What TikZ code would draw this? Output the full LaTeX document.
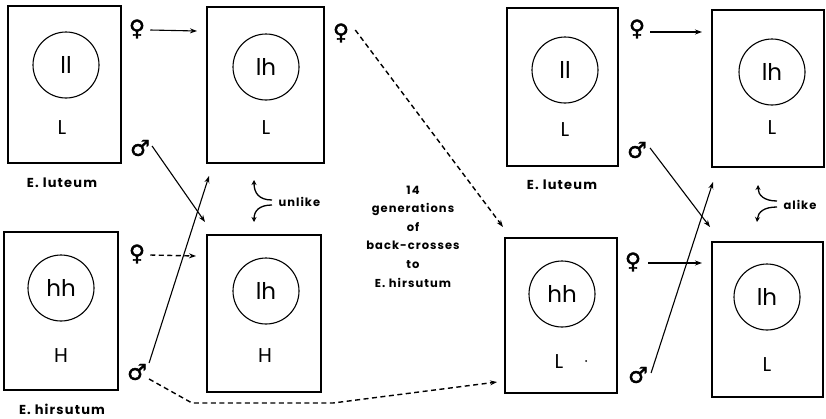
\documentclass[tikz,border=0pt]{standalone}
\usepackage{fontspec}
\setmainfont{Poppins}
\newfontfamily\lettering[LetterSpace=9]{Poppins}
\newfontfamily\symfont[FakeBold=1.5]{DejaVu Sans}
\usetikzlibrary{arrows.meta}
\begin{document}
\begin{tikzpicture}[x=1pt,y=-1pt,
  cell/.style={draw,line width=1.4pt,minimum width=#1,inner sep=0pt},
  chrom/.style={draw,circle,line width=1.1pt,minimum size=66pt,inner sep=0pt,font=\fontsize{23}{23}\selectfont},
  pheno/.style={font=\fontsize{20}{20}\selectfont},
  sex/.style={font=\symfont\fontsize{22}{22}\selectfont,inner sep=0pt},
  species/.style={font=\lettering\bfseries\fontsize{13}{13}\selectfont},
  arr/.style={line width=1.1pt,-{Stealth[length=7pt,width=5pt]}},
  darr/.style={line width=1.4pt,dash pattern=on 5pt off 3.5pt,-{Stealth[length=7pt,width=5pt]}},
  curl/.style={line width=1.3pt,-{Stealth[length=5pt,width=5pt]}},
  note/.style={font=\lettering\bfseries\fontsize{11.5}{18.6}\selectfont}
]
\useasboundingbox (0,0) rectangle (826,418);
% boxes
\node[cell=113pt,minimum height=157pt] (A) at (64.5,84.5) {};
\node[cell=117pt,minimum height=156pt] (B) at (265.5,85) {};
\node[cell=114pt,minimum height=158pt] (C) at (61,311) {};
\node[cell=114pt,minimum height=157pt] (D) at (264,313.5) {};
\node[cell=111pt,minimum height=158pt] (E) at (562.5,87) {};
\node[cell=112pt,minimum height=155pt] (H) at (561,315.5) {};
\node[cell=112pt,minimum height=157pt] (F) at (768,88.5) {};
\node[cell=111pt,minimum height=155pt] (G) at (767.5,319.5) {};
% chromosome circles
\node[chrom] (cA) at (66,65) {ll};
\node[chrom] (cB) at (266,67) {lh};
\node[chrom] (cC) at (61,288) {hh};
\node[chrom] (cD) at (266,291) {lh};
\node[chrom] (cE) at (565,70) {ll};
\node[chrom] (cF) at (772,72) {lh};
\node[chrom] (cH) at (562,294) {hh};
\node[chrom] (cG) at (767,297) {lh};
% phenotypes
\node[pheno] (pA) at (62,128) {L};
\node[pheno] (pB) at (266,128) {L};
\node[pheno] (pC) at (61,356) {H};
\node[pheno] (pD) at (265,356) {H};
\node[pheno] (pE) at (565,130) {L};
\node[pheno] (pF) at (772,128) {L};
\node[pheno] (pH) at (559,362) {L};
\node[pheno] (pG) at (767,365) {L};
\fill (586,361) circle (1pt);
% species labels
\node[species] (sA) at (62,183) {E. luteum};
\node[species] (sC) at (62,409) {E. hirsutum};
\node[species] (sE) at (562,185) {E. luteum};
% sex symbols
\node[sex] (fA) at (137,29) {♀};
\node[sex] (mA) at (140,148) {♂};
\node[sex] (fC) at (137,254) {♀};
\node[sex] (mC) at (137,372) {♂};
\node[sex] (fB) at (341,33) {♀};
\node[sex] (fE) at (637,29) {♀};
\node[sex] (mE) at (637,150) {♂};
\node[sex] (fH) at (633,262) {♀};
\node[sex] (mH) at (638,375) {♂};
% arrow end points
\coordinate (tB) at (197,31);
\coordinate (tD1) at (205,222);
\coordinate (tB2) at (209,176);
\coordinate (tD2) at (196,256);
\coordinate (tH1) at (503,227);
\coordinate (tH2) at (497,382);
\coordinate (tF) at (702,32);
\coordinate (tG1) at (710,227);
\coordinate (tG2) at (702,263);
\coordinate (tF2) at (713,182);
% crosses
\draw[arr] (fA.east) ++(5,1) -- (tB);
\draw[arr] (mA.east) ++(2,-2) -- (tD1);
\draw[arr] (mC.east) ++(2,-9) -- (tB2);
\draw[darr] (fC.east) ++(5,1) -- (tD2);
\draw[darr] (fB.east) ++(6,-3) -- (tH1);
\draw[darr] (mC.east) ++(2,7) -- (192,403) -- (333,403) -- (tH2);
\draw[arr] (fE.east) ++(5,3) -- (tF);
\draw[arr] (mE.east) ++(3,-2) -- (tG1);
\draw[arr] (fH.east) ++(7,1) -- (tG2);
\draw[arr] (mH.east) ++(3,-2) -- (tF2);
% unlike / alike
\node[note,anchor=west] (un) at (275,202) {unlike};
\draw[curl] (un.west) ++(-3,-2) .. controls (259,200) and (254,193) .. (254,180);
\draw[curl] (un.west) ++(-3,3) .. controls (259,205) and (254,211) .. (254,222);
\node[note,anchor=west] (al) at (780,205) {alike};
\draw[curl] (al.west) ++(-3,-4) .. controls (764,201) and (758,195) .. (758,185);
\draw[curl] (al.west) ++(-3,2) .. controls (764,207) and (758,212) .. (757,222);
% middle note
\node[note,align=center] (gen) at (413,236.5) {14\\generations\\of\\back-crosses\\to\\E. hirsutum};
\end{tikzpicture}
\end{document}
